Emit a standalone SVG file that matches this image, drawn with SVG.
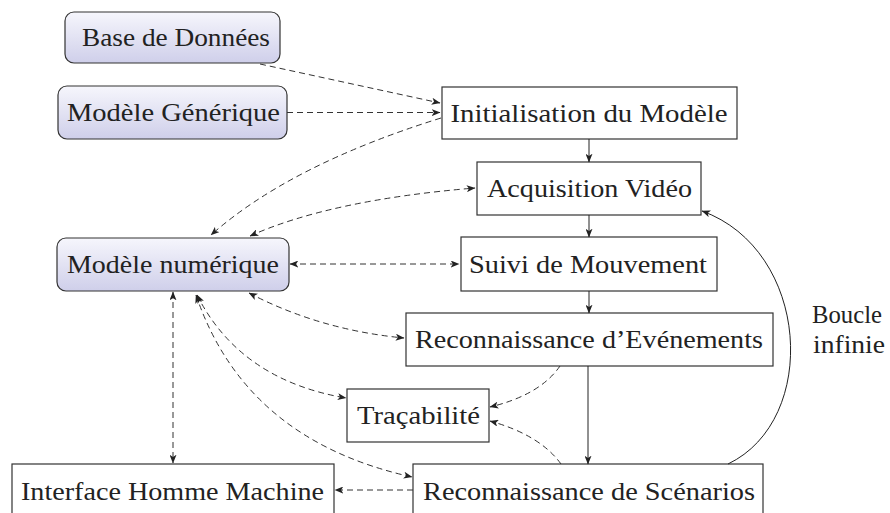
<svg xmlns="http://www.w3.org/2000/svg" width="890" height="513" viewBox="0 0 890 513">
<style>
text{font-family:"Liberation Serif","Times New Roman",serif;font-size:26px;fill:#222;text-anchor:middle}
.rb{fill:url(#g);stroke:#333;stroke-width:1.2}
.bx{fill:#fff;stroke:#333;stroke-width:1.2}
.d{fill:none;stroke:#333;stroke-width:1;stroke-dasharray:6 4}
.s{fill:none;stroke:#222;stroke-width:1}
</style>
<defs>
<linearGradient id="g" x1="0" y1="0" x2="0" y2="1">
<stop offset="0" stop-color="#f6f6fc"/>
<stop offset="1" stop-color="#cfcfea"/>
</linearGradient>
<marker id="a" viewBox="0 0 10 8" refX="9.5" refY="4" markerWidth="9" markerHeight="7" markerUnits="userSpaceOnUse" orient="auto-start-reverse">
<path d="M0,0 L10,4 L0,8 L2.5,4 Z" fill="#222"/>
</marker>
</defs>
<g id="bdd"><rect class="rb" x="65" y="12" width="215" height="51" rx="9"/><text x="176" y="46" textLength="188" lengthAdjust="spacingAndGlyphs">Base de Données</text></g>
<g id="mg"><rect class="rb" x="58" y="86" width="229" height="53" rx="9"/><text x="173.5" y="121" textLength="213" lengthAdjust="spacingAndGlyphs">Modèle Générique</text></g>
<g id="mn"><rect class="rb" x="57" y="238" width="232" height="53" rx="9"/><text x="173" y="273" textLength="212" lengthAdjust="spacingAndGlyphs">Modèle numérique</text></g>
<g id="init"><rect class="bx" x="442" y="87" width="295" height="52"/><text x="589" y="122" textLength="277" lengthAdjust="spacingAndGlyphs">Initialisation du Modèle</text></g>
<g id="acq"><rect class="bx" x="477" y="162" width="224" height="53"/><text x="589.5" y="197" textLength="205" lengthAdjust="spacingAndGlyphs">Acquisition Vidéo</text></g>
<g id="suivi"><rect class="bx" x="461" y="237" width="256" height="54"/><text x="588" y="273" textLength="238" lengthAdjust="spacingAndGlyphs">Suivi de Mouvement</text></g>
<g id="rde"><rect class="bx" x="406" y="313" width="367" height="53"/><text x="589" y="348" textLength="348" lengthAdjust="spacingAndGlyphs">Reconnaissance d’Evénements</text></g>
<g id="trac"><rect class="bx" x="347" y="389" width="142" height="53"/><text x="418.5" y="424" textLength="123" lengthAdjust="spacingAndGlyphs">Traçabilité</text></g>
<g id="rds"><rect class="bx" x="413" y="464" width="350" height="60"/><text x="589" y="500" textLength="332" lengthAdjust="spacingAndGlyphs">Reconnaissance de Scénarios</text></g>
<g id="ihm"><rect class="bx" x="12" y="464" width="322" height="60"/><text x="172.5" y="500" textLength="303" lengthAdjust="spacingAndGlyphs">Interface Homme Machine</text></g>
<g id="label"><text x="847" y="323" textLength="70" lengthAdjust="spacingAndGlyphs">Boucle</text><text x="849" y="353" textLength="72" lengthAdjust="spacingAndGlyphs">infinie</text></g>
<g id="connectors">
<path class="d" d="M260,64 L440,103" marker-end="url(#a)"/>
<path class="d" d="M287,112.5 L440,112.5" marker-end="url(#a)"/>
<path class="d" d="M441,118 Q 290,165 211,235" marker-end="url(#a)"/>
<path class="d" d="M250,236 Q 330,200 475,188" marker-start="url(#a)" marker-end="url(#a)"/>
<path class="d" d="M290,264 L459,264" marker-start="url(#a)" marker-end="url(#a)"/>
<path class="d" d="M249,293 Q 320,330 404,338" marker-start="url(#a)" marker-end="url(#a)"/>
<path class="d" d="M197,295 Q 240,380 346,398" marker-start="url(#a)" marker-end="url(#a)"/>
<path class="d" d="M196,295 Q 245,440 412,477" marker-start="url(#a)" marker-end="url(#a)"/>
<path class="d" d="M173,292 L173,463" marker-start="url(#a)" marker-end="url(#a)"/>
<path class="d" d="M413,490 L335,490" marker-end="url(#a)"/>
<path class="d" d="M560,366 Q 540,395 490,407" marker-end="url(#a)"/>
<path class="d" d="M561,464 Q 540,435 490,421" marker-end="url(#a)"/>
<path class="s" d="M589,139 L589,162" marker-end="url(#a)"/>
<path class="s" d="M589,215 L589,237" marker-end="url(#a)"/>
<path class="s" d="M589,291 L589,313" marker-end="url(#a)"/>
<path class="s" d="M588,366 L588,464" marker-end="url(#a)"/>
<path class="s" d="M728,464 C 820,420 810,250 702,211" marker-end="url(#a)"/>
</g>
</svg>
